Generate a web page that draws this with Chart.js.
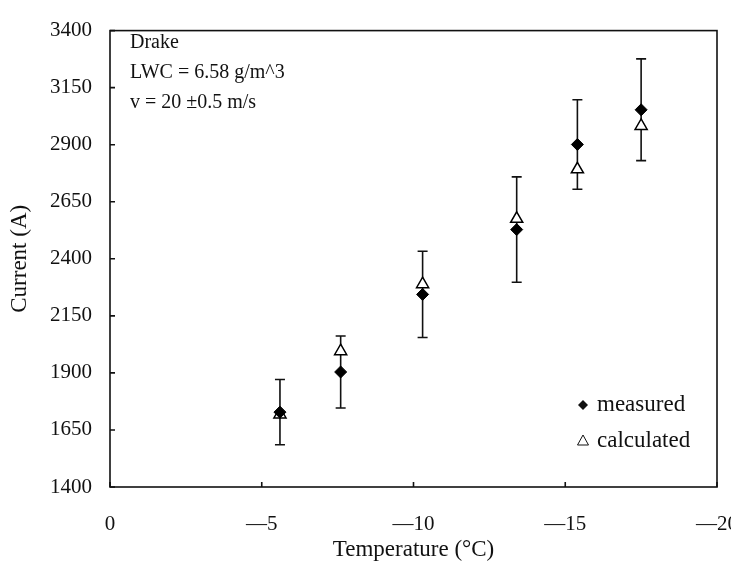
<!DOCTYPE html>
<html lang="en">
<head>
    <meta charset="UTF-8">
    <title>Current vs Temperature</title>
    <script src="https://cdn.jsdelivr.net/npm/chart.js@4.4.1/dist/chart.umd.min.js"></script>
    <style>
        html, body { margin: 0; padding: 0; background: #fff; }
        #wrap { width: 731px; height: 572px; }
    </style>
</head>
<body>
    <div id="wrap"><canvas id="myChart" width="731" height="572"></canvas></div>
</body>
</html>
<script>

    // values
    let temps = [-5.6, -7.6, -10.3, -13.4, -15.4, -17.5]
    let measured = [1728, 1904, 2244, 2528, 2901, 3053]
    let calculated = [1718, 1995, 2289, 2575, 2792, 2982]
    let errors = [143, 158, 189, 231, 196, 223]
    let xTicks = [0, -5, -10, -15, -20]
    let yTicks = [1400, 1650, 1900, 2150, 2400, 2650, 2900, 3150, 3400]
    let notes = ["Drake", "LWC = 6.58 g/m^3", "v = 20 \u00b10.5 m/s"]

    const FONT = "'Liberation Serif', 'Times New Roman', serif"

    //error bars on the measured series
    const errorBars = {
        id: 'errorBars',
        beforeDatasetsDraw(chart) {
            const ctx = chart.ctx
            const xs = chart.scales.x, ys = chart.scales.y
            ctx.save()
            ctx.strokeStyle = '#111'
            ctx.lineWidth = 1.6
            for (let i = 0; i < temps.length; i++) {
                let px = xs.getPixelForValue(temps[i])
                let top = ys.getPixelForValue(measured[i] + errors[i])
                let bot = ys.getPixelForValue(measured[i] - errors[i])
                ctx.beginPath()
                ctx.moveTo(px, top); ctx.lineTo(px, bot)
                ctx.moveTo(px - 5, top); ctx.lineTo(px + 5, top)
                ctx.moveTo(px - 5, bot); ctx.lineTo(px + 5, bot)
                ctx.stroke()
            }
            ctx.restore()
        }
    }

    //box, inward ticks, note text and legend
    const frame = {
        id: 'frame',
        afterDraw(chart) {
            const ctx = chart.ctx
            const a = chart.chartArea
            const xs = chart.scales.x, ys = chart.scales.y
            ctx.save()
            ctx.strokeStyle = '#111'
            ctx.lineWidth = 1.6
            ctx.strokeRect(a.left, a.top, a.right - a.left, a.bottom - a.top)
            ctx.beginPath()
            xTicks.forEach(v => {
                let px = xs.getPixelForValue(v)
                ctx.moveTo(px, a.bottom); ctx.lineTo(px, a.bottom - 5)
            })
            yTicks.forEach(v => {
                let py = ys.getPixelForValue(v)
                ctx.moveTo(a.left, py); ctx.lineTo(a.left + 5, py)
            })
            ctx.stroke()

            ctx.fillStyle = '#111'
            ctx.font = '20px ' + FONT
            ctx.textBaseline = 'middle'
            ctx.textAlign = 'left'
            notes.forEach((t, i) => ctx.fillText(t, a.left + 20, a.top + 12 + i * 30))

            // legend
            let lx = a.right - 134, ly = a.bottom - 82
            ctx.font = '23px ' + FONT
            ctx.fillText(chart.data.datasets[0].label, lx + 14, ly)
            ctx.fillText(chart.data.datasets[1].label, lx + 14, ly + 36)
            ctx.beginPath()
            ctx.moveTo(lx, ly - 5); ctx.lineTo(lx + 5, ly); ctx.lineTo(lx, ly + 5); ctx.lineTo(lx - 5, ly)
            ctx.closePath()
            ctx.fill()
            ctx.lineWidth = 1
            ctx.beginPath()
            ctx.moveTo(lx, ly + 30); ctx.lineTo(lx + 5.5, ly + 40); ctx.lineTo(lx - 5.5, ly + 40)
            ctx.closePath()
            ctx.stroke()
            ctx.restore()
        }
    }

    window.addEventListener("load", () => {
        const ctx = document.getElementById('myChart').getContext('2d')
        new Chart(ctx, {
            type: 'scatter',
            data: {
                datasets: [{
                    label: 'measured',
                    data: temps.map((t, i) => ({ x: t, y: measured[i] })),
                    pointStyle: 'rectRot',
                    pointRadius: 6,
                    backgroundColor: '#000',
                    borderColor: '#000',
                    borderWidth: 1
                }, {
                    label: 'calculated',
                    data: temps.map((t, i) => ({ x: t, y: calculated[i] })),
                    pointStyle: 'triangle',
                    pointRadius: 7,
                    backgroundColor: '#fff',
                    borderColor: '#000',
                    borderWidth: 1.5
                }]
            },
            options: {
                responsive: false,
                animation: false,
                layout: { padding: { left: 0, right: 14, top: 23, bottom: 0 } },
                plugins: {
                    legend: { display: false },
                    tooltip: { enabled: false }
                },
                scales: {
                    x: {
                        type: 'linear',
                        reverse: true,
                        min: -20,
                        max: 0,
                        afterBuildTicks: s => { s.ticks = xTicks.map(v => ({ value: v })) },
                        afterFit: s => { s.height = 85; s.paddingLeft = 0; s.paddingRight = 0 },
                        grid: { display: false, drawTicks: false },
                        border: { display: false },
                        ticks: {
                            padding: 25,
                            color: '#111',
                            font: { family: FONT, size: 21 },
                            callback: v => v === 0 ? '0' : '\u2014' + Math.abs(v)
                        },
                        title: {
                            display: true,
                            text: 'Temperature (\u00b0C)',
                            color: '#111',
                            font: { family: FONT, size: 23 },
                            padding: { top: 0, bottom: 8 }
                        }
                    },
                    y: {
                        min: 1400,
                        max: 3400,
                        afterBuildTicks: s => { s.ticks = yTicks.map(v => ({ value: v })) },
                        afterFit: s => { s.width = 110 },
                        grid: { display: false, drawTicks: false },
                        border: { display: false },
                        ticks: {
                            padding: 18,
                            color: '#111',
                            font: { family: FONT, size: 21 },
                            callback: v => String(v)
                        },
                        title: {
                            display: true,
                            text: 'Current (A)',
                            color: '#111',
                            font: { family: FONT, size: 23 },
                            padding: { top: 6, bottom: 0 }
                        }
                    }
                }
            },
            plugins: [errorBars, frame]
        })
    })

</script>
